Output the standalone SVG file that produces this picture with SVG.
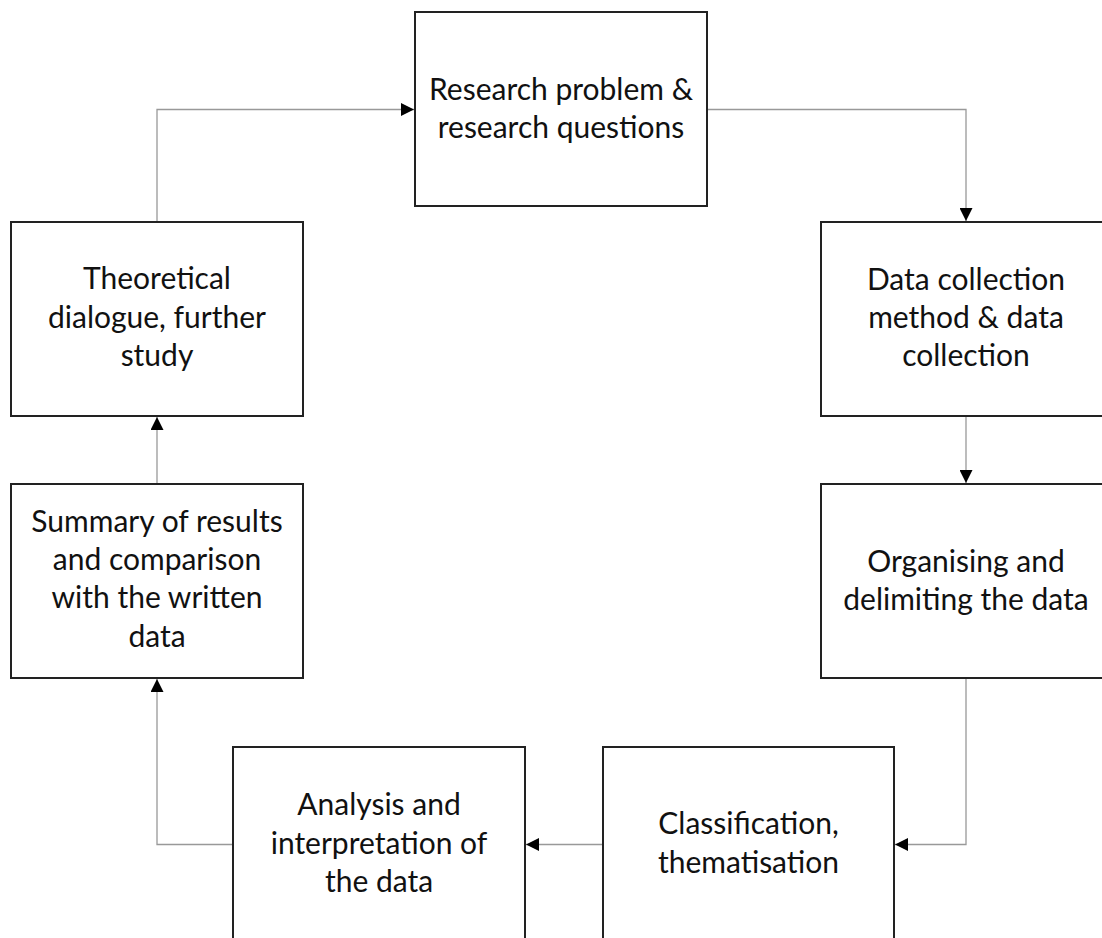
<svg xmlns="http://www.w3.org/2000/svg" width="1102" height="938" viewBox="0 0 1102 938">
<style>
.box{fill:#fff;stroke:#222;stroke-width:2}
.lbl{font-family:Lato,"Open Sans",sans-serif;font-size:30px;fill:#111;text-anchor:middle}
.con{fill:none;stroke:#999;stroke-width:1.3}
</style>
<defs>
<marker id="ah" refX="13" refY="6.5" markerWidth="13" markerHeight="13" markerUnits="userSpaceOnUse" orient="auto">
<path d="M0,0 L13,6.5 L0,13 Z" fill="#000"/>
</marker>
</defs>
<rect width="1102" height="938" fill="#fff"/>
<g id="connectors">
<path class="con" d="M157,222 V109.5 H414" marker-end="url(#ah)"/>
<path class="con" d="M708,109.5 H966 V221" marker-end="url(#ah)"/>
<path class="con" d="M966,417 V483" marker-end="url(#ah)"/>
<path class="con" d="M966,679 V844.5 H895" marker-end="url(#ah)"/>
<path class="con" d="M603,844.5 H526" marker-end="url(#ah)"/>
<path class="con" d="M233,844.5 H157 V679" marker-end="url(#ah)"/>
<path class="con" d="M157,484 V417" marker-end="url(#ah)"/>
</g>
<g id="n-research">
<rect class="box" x="415" y="12" width="292" height="194"/>
<text class="lbl" x="561" y="100">Research problem &amp;</text>
<text class="lbl" x="561" y="138">research questions</text>
</g>
<g id="n-datacollection">
<rect class="box" x="821" y="222" width="300" height="194"/>
<text class="lbl" x="966" y="290">Data collection</text>
<text class="lbl" x="966" y="328">method &amp; data</text>
<text class="lbl" x="966" y="366">collection</text>
</g>
<g id="n-organising">
<rect class="box" x="821" y="484" width="300" height="194"/>
<text class="lbl" x="966" y="572">Organising and</text>
<text class="lbl" x="966" y="610">delimiting the data</text>
</g>
<g id="n-classification">
<path class="box" d="M603,945 V747 H894 V945"/>
<text class="lbl" x="748.5" y="834">Classification,</text>
<text class="lbl" x="748.5" y="873">thematisation</text>
</g>
<g id="n-analysis">
<path class="box" d="M233,945 V747 H525 V945"/>
<text class="lbl" x="379" y="815">Analysis and</text>
<text class="lbl" x="379" y="854">interpretation of</text>
<text class="lbl" x="379" y="892">the data</text>
</g>
<g id="n-summary">
<rect class="box" x="11" y="484" width="292" height="194"/>
<text class="lbl" x="157" y="532">Summary of results</text>
<text class="lbl" x="157" y="570">and comparison</text>
<text class="lbl" x="157" y="608">with the written</text>
<text class="lbl" x="157" y="647">data</text>
</g>
<g id="n-theoretical">
<rect class="box" x="11" y="222" width="292" height="194"/>
<text class="lbl" x="157" y="289">Theoretical</text>
<text class="lbl" x="157" y="328">dialogue, further</text>
<text class="lbl" x="157" y="366">study</text>
</g>
</svg>
